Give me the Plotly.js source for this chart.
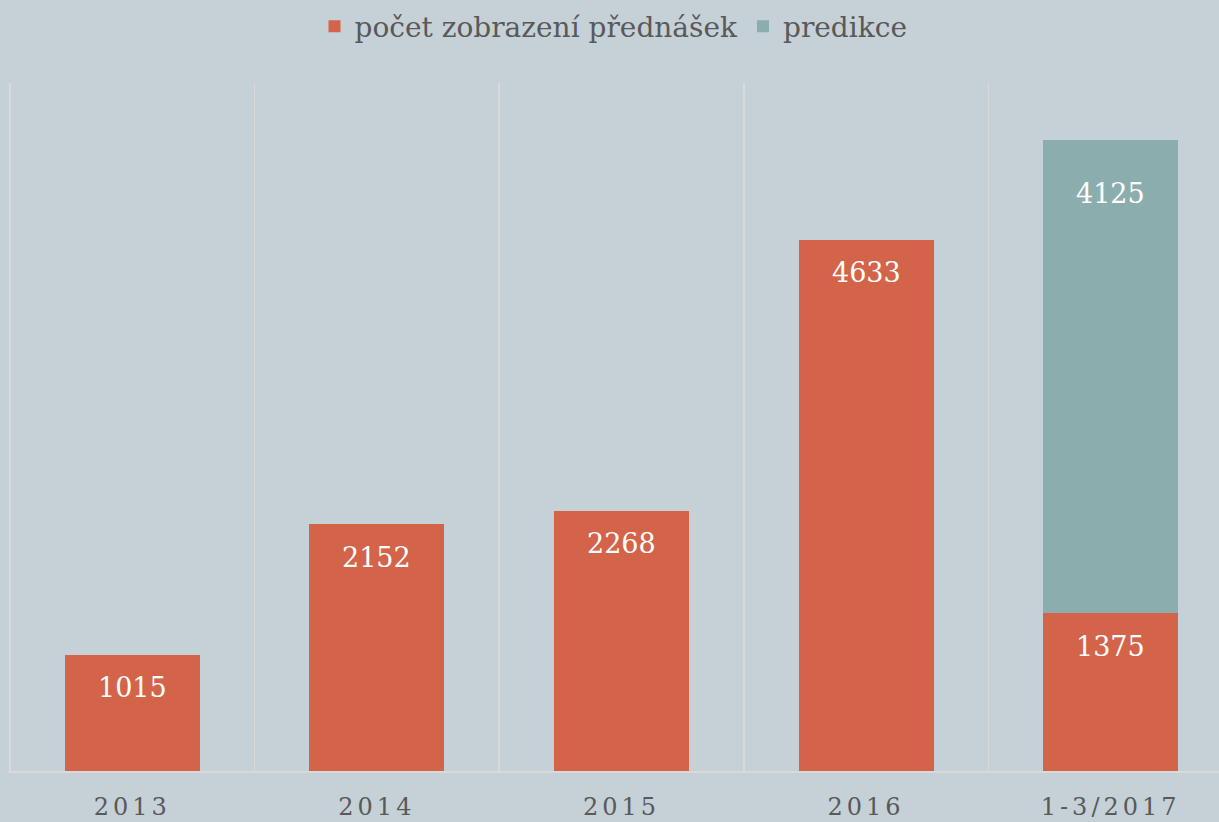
<!DOCTYPE html>
<html>
<head>
<meta charset="utf-8">
<script src="https://cdn.plot.ly/plotly-3.0.1.min.js"></script>
<style>
html,body{margin:0;padding:0;overflow:hidden;background:#C5D1D7;}
.xtick text{letter-spacing:4px;}
</style>
</head>
<body>
<div id="chart" style="width:1219px;height:822px;"></div>
<script>
const categories = ["2013", "2014", "2015", "2016", "1-3/2017"];
const views = [1015, 2152, 2268, 4633, 1375];
const prediction = [null, null, null, null, 4125];
const seriesNames = ["počet zobrazení přednášek", "predikce"];

const fontFam = "DejaVu Serif, Georgia, serif";
const orange = "#D3644A";
const teal = "#8BADAE";

const traces = [
  {type: "bar", x: categories, y: views, name: seriesNames[0],
   marker: {color: orange}, hoverinfo: "y"},
  {type: "bar", x: categories, y: prediction, name: seriesNames[1],
   marker: {color: teal}, hoverinfo: "y"}
];

const annotations = [];
categories.forEach((c, i) => {
  if (views[i] != null) {
    annotations.push({x: i, y: views[i], xref: "x", yref: "y", text: String(views[i]),
      showarrow: false, yanchor: "middle", yshift: -33,
      font: {family: fontFam, size: 27, color: "#ffffff"}});
  }
  if (prediction[i] != null) {
    const top = (views[i] || 0) + prediction[i];
    annotations.push({x: i, y: top, xref: "x", yref: "y", text: String(prediction[i]),
      showarrow: false, yanchor: "middle", yshift: -53,
      font: {family: fontFam, size: 27, color: "#ffffff"}});
  }
});

const layout = {
  width: 1219, height: 822,
  paper_bgcolor: "#C5D1D7", plot_bgcolor: "#C5D1D7",
  margin: {l: 8, r: 0, t: 83, b: 51},
  barmode: "stack",
  bargap: 0.448,
  showlegend: true,
  legend: {orientation: "h", traceorder: "normal", x: 0.5, xanchor: "center", y: 1.082, yanchor: "middle",
    font: {family: fontFam, size: 28, color: "#595959"}, bgcolor: "rgba(0,0,0,0)"},
  xaxis: {type: "category", range: [-0.508, 4.443], tickson: "boundaries",
    showgrid: true, gridcolor: "#D9D9D9", gridwidth: 1.5,
    showline: true, linecolor: "#D9D9D9", linewidth: 1.5,
    ticks: "", ticklen: 0, ticklabelstandoff: 14,
    tickfont: {family: fontFam, size: 24, color: "#595959"}},
  yaxis: {range: [0, 6000], showgrid: false, zeroline: false,
    showticklabels: false, ticks: ""},
  annotations: annotations
};

Plotly.newPlot("chart", traces, layout, {displayModeBar: false, staticPlot: true});
</script>
</body>
</html>
